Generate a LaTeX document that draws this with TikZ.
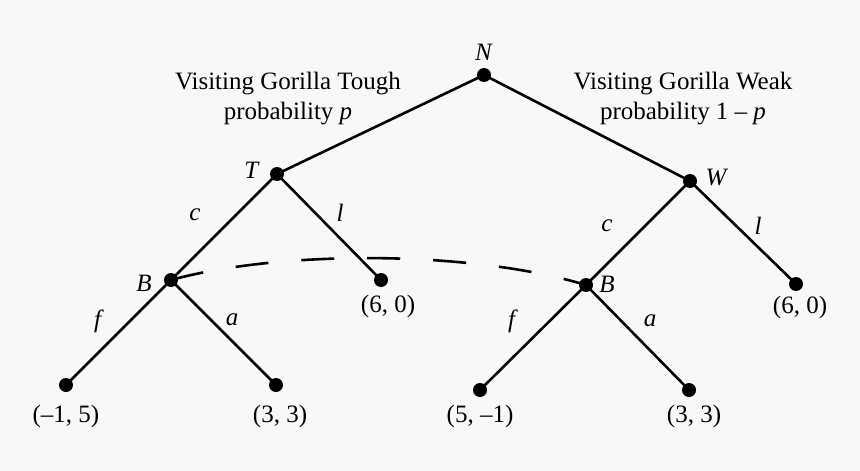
\documentclass[tikz,border=0pt]{standalone}
\usepackage{fontspec}
\setmainfont{Liberation Serif}
\definecolor{bg}{HTML}{F8F8F8}
\begin{document}
\begin{tikzpicture}[x=1pt,y=-1pt,
  dot/.style={circle,fill=black,inner sep=0pt,minimum size=14pt},
  edge/.style={line width=2.6pt},
  lab/.style={font=\fontsize{25}{28}\selectfont,inner sep=0pt},
  info/.style={line width=2.6pt,dash pattern=on 33pt off 33pt}]
\fill[bg] (0,0) rectangle (860,471);
\useasboundingbox (0,0) rectangle (860,471);
% decision nodes
\node[dot] (N) at (484,75) {};
\node[dot] (T) at (277,174) {};
\node[dot] (W) at (690,181) {};
\node[dot] (B1) at (171,280) {};
\node[dot] (B2) at (586,285) {};
% terminal nodes
\node[dot] (L1) at (381,280) {};
\node[dot] (L2) at (796,284) {};
\node[dot] (F1) at (66,385) {};
\node[dot] (A1) at (276,385) {};
\node[dot] (F2) at (480,390) {};
\node[dot] (A2) at (689,390) {};
% edges
\draw[edge] (N.center) -- (T.center);
\draw[edge] (N.center) -- (W.center);
\draw[edge] (T.center) -- (B1.center);
\draw[edge] (T.center) -- (L1.center);
\draw[edge] (W.center) -- (B2.center);
\draw[edge] (W.center) -- (L2.center);
\draw[edge] (B1.center) -- (F1.center);
\draw[edge] (B1.center) -- (A1.center);
\draw[edge] (B2.center) -- (F2.center);
\draw[edge] (B2.center) -- (A2.center);
% information set
\draw[info] (B1.center) .. controls (280,250) and (470,250) .. (B2.center);
% node labels
\node[lab] (lN) at (484,52) {\textit{N}};
\node[lab] (lT) at (252,170) {\textit{T}};
\node[lab] (lW) at (717,178) {\textit{W}};
\node[lab] (lB1) at (144,283) {\textit{B}};
\node[lab] (lB2) at (607,284) {\textit{B}};
% move labels
\node[lab] (c1) at (195,215) {\textit{c}};
\node[lab] (l1) at (340,213) {\textit{l}};
\node[lab] (c2) at (607,226) {\textit{c}};
\node[lab] (l2) at (758,226) {\textit{l}};
\node[lab] (f1) at (99,321) {\textit{f}};
\node[lab] (a1) at (232,320) {\textit{a}};
\node[lab] (f2) at (513,321) {\textit{f}};
\node[lab] (a2) at (650,321) {\textit{a}};
% payoffs
\node[lab] (pL1) at (388,306) {(6, 0)};
\node[lab] (pL2) at (800,307) {(6, 0)};
\node[lab] (pF1) at (66,416) {(–1, 5)};
\node[lab] (pA1) at (280,416) {(3, 3)};
\node[lab] (pF2) at (480,416) {(5, –1)};
\node[lab] (pA2) at (694,416) {(3, 3)};
% chance labels
\node[lab,align=center] (tough) at (288,99) {Visiting Gorilla Tough\\[2pt]probability \textit{p}};
\node[lab,align=center] (weak) at (683,99) {Visiting Gorilla Weak\\[2pt]probability 1 – \textit{p}};
\end{tikzpicture}
\end{document}
